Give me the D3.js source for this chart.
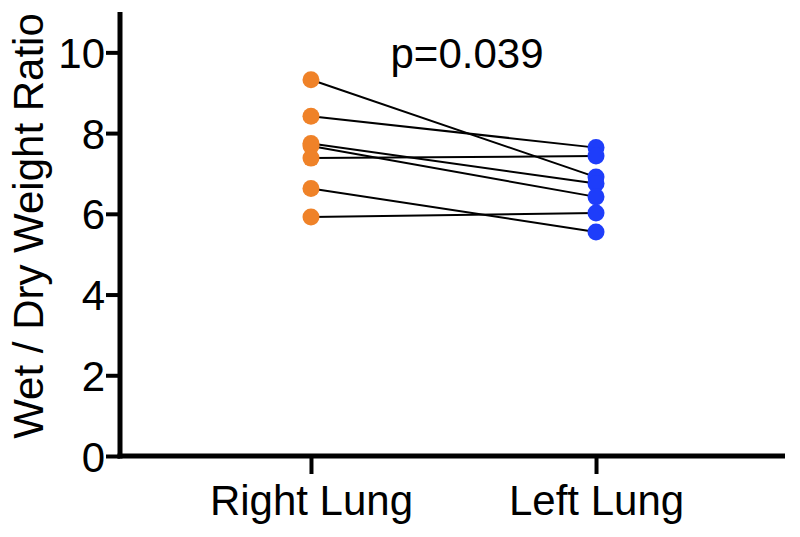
<!DOCTYPE html>
<html>
<head>
<meta charset="utf-8">
<script src="https://cdn.jsdelivr.net/npm/d3@7"></script>
<style>
  html, body { margin: 0; padding: 0; background: #fff; }
  svg { display: block; }
  text { font-family: "Liberation Sans", Arial, Helvetica, sans-serif; fill: #000; }
</style>
</head>
<body>
<svg id="chart" width="800" height="537"></svg>
<script>
const categories = ["Right Lung", "Left Lung"];
const rightLung = [9.32, 8.42, 7.74, 7.68, 7.38, 6.63, 5.92];
const leftLung  = [6.91, 7.64, 6.75, 6.42, 7.43, 5.55, 6.02];
const yTicks = [0, 2, 4, 6, 8, 10];
const yLabel = "Wet / Dry Weight Ratio";
const pText = "p=0.039";

const svg = d3.select("#chart");
const x = d3.scalePoint().domain(categories).range([120, 787]).padding(0.67);
const y = d3.scaleLinear().domain([0, 11]).range([456, 12]);

// connecting lines
const pairs = rightLung.map((r, i) => [r, leftLung[i]]);
svg.append("g").selectAll("line").data(pairs).join("line")
  .attr("x1", x(categories[0])).attr("x2", x(categories[1]))
  .attr("y1", d => y(d[0])).attr("y2", d => y(d[1]))
  .attr("stroke", "#000").attr("stroke-width", 2);

// points
svg.append("g").selectAll("circle").data(rightLung).join("circle")
  .attr("cx", x(categories[0])).attr("cy", d => y(d)).attr("r", 8.5)
  .attr("fill", "#EF8228");
svg.append("g").selectAll("circle").data(leftLung).join("circle")
  .attr("cx", x(categories[1])).attr("cy", d => y(d)).attr("r", 8.5)
  .attr("fill", "#1E3DFA");

// y axis
const yAxis = svg.append("g").attr("transform", "translate(120,0)")
  .call(d3.axisLeft(y).tickValues(yTicks).tickSize(14).tickPadding(1).tickSizeOuter(0));
yAxis.select(".domain").attr("stroke-width", 5).attr("d", `M0,${y(11)}V${y(0)+2.5}`);
yAxis.selectAll(".tick line").attr("stroke-width", 4);
yAxis.selectAll(".tick text").attr("font-size", 42).attr("dy", "0.36em");

// x axis
const xAxis = svg.append("g").attr("transform", "translate(0,456)")
  .call(d3.axisBottom(x).tickSize(18).tickPadding(11).tickSizeOuter(0));
xAxis.select(".domain").attr("stroke-width", 5).attr("d", "M117.5,0H785");
xAxis.selectAll(".tick line").attr("stroke-width", 4);
xAxis.selectAll(".tick text").attr("font-size", 42).attr("dy", "0.71em");
svg.selectAll(".domain, .tick line").attr("stroke", "#000");

// y label
svg.append("text")
  .attr("transform", `translate(43,226) rotate(-90)`)
  .attr("text-anchor", "middle")
  .attr("font-size", 42)
  .text(yLabel);

// p value
svg.append("text")
  .attr("x", 467).attr("y", 68)
  .attr("text-anchor", "middle")
  .attr("font-size", 42)
  .text(pText);
</script>
</body>
</html>
